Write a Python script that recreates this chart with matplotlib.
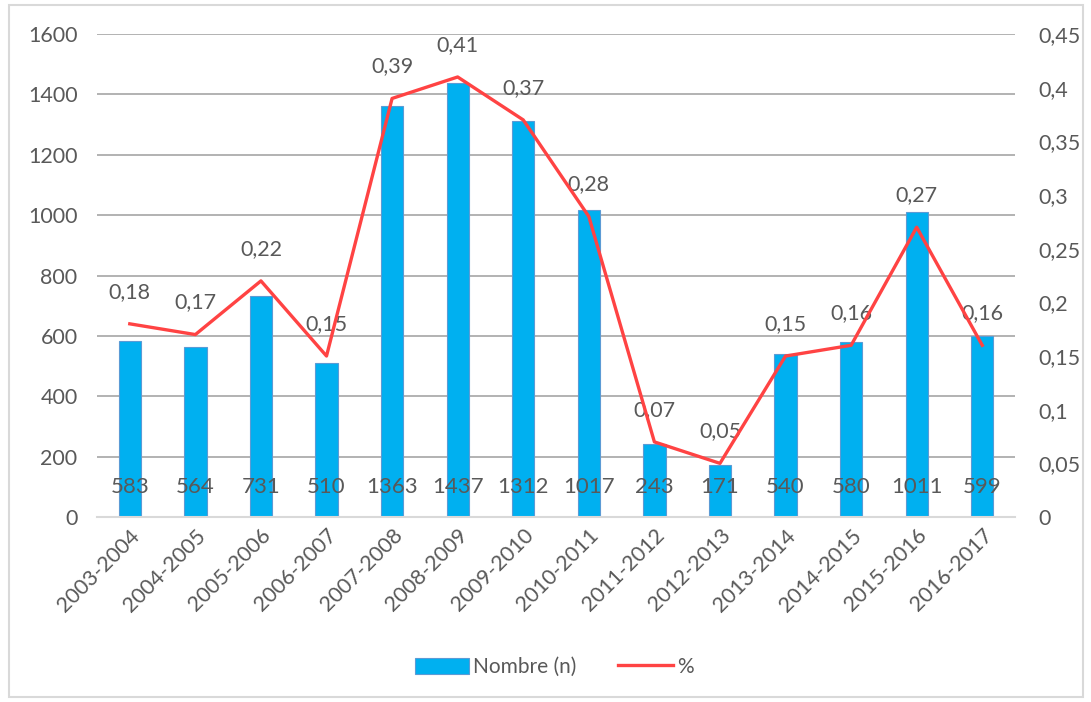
"""Nombre de cas et pourcentage par année universitaire (style Excel)."""
import numpy as np
import matplotlib
matplotlib.use("Agg")
import matplotlib.pyplot as plt
from matplotlib.patches import Rectangle

annees = ["2003-2004", "2004-2005", "2005-2006", "2006-2007", "2007-2008",
          "2008-2009", "2009-2010", "2010-2011", "2011-2012", "2012-2013",
          "2013-2014", "2014-2015", "2015-2016", "2016-2017"]
nombre = [583, 564, 731, 510, 1363, 1437, 1312, 1017, 243, 171, 540, 580,
          1011, 599]
pourcent = [0.18, 0.17, 0.22, 0.15, 0.39, 0.41, 0.37, 0.28, 0.07, 0.05,
            0.15, 0.16, 0.27, 0.16]

BLEU = "#00B0F0"
ROUGE = "#FF4343"
GRIS_TXT = "#595959"

plt.rcParams["font.family"] = ["Lato", "DejaVu Sans"]


def fmt_virgule(v):
    s = f"{v:.2f}".rstrip("0").rstrip(".")
    return s.replace(".", ",")


fig = plt.figure(figsize=(10.91, 7.02), dpi=100)
ax = fig.add_axes([0.0889, 0.2635, 0.8415, 0.688])
ax2 = ax.twinx()

x = np.arange(len(annees))
ax.bar(x, nombre, 0.34, color=BLEU, edgecolor="#5B9BD5", linewidth=0.8,
       zorder=2, label="Nombre (n)")
for xi, n in zip(x, nombre):
    ax.text(xi, 100, str(n), ha="center", va="center", fontsize=16,
            color=GRIS_TXT, zorder=3)

ax.set_ylim(0, 1600)
ax.set_yticks(np.arange(0, 1601, 200))
ax.set_xlim(-0.5, len(annees) - 0.5)
ax.set_xticks(x)
ax.set_xticklabels(annees, rotation=45, ha="right", rotation_mode="anchor")
ax.grid(axis="y", color="#A6A6A6", linewidth=1.2, zorder=0)
ax.set_axisbelow(True)
for s in ["top", "left", "right"]:
    ax.spines[s].set_visible(False)
ax.spines["bottom"].set_color("#D9D9D9")
ax.spines["bottom"].set_linewidth(1.5)
ax.tick_params(length=0, labelsize=15.5, labelcolor=GRIS_TXT, pad=14)
ax.tick_params(axis="x", pad=6)

ax2.plot(x, pourcent, color=ROUGE, linewidth=2.4, zorder=4, label="%")
for xi, p in zip(x, pourcent):
    ax2.annotate(fmt_virgule(p), (xi, p), xytext=(0, 16),
                 textcoords="offset points", ha="center", va="bottom",
                 fontsize=15.5, color=GRIS_TXT)
ax2.set_ylim(0, 0.45)
ax2.set_yticks(np.arange(0, 0.451, 0.05))
ax2.set_yticklabels([fmt_virgule(v) for v in np.arange(0, 0.451, 0.05)])
for s in ax2.spines.values():
    s.set_visible(False)
ax2.tick_params(length=0, labelsize=15.5, labelcolor=GRIS_TXT, pad=17)

h1, l1 = ax.get_legend_handles_labels()
h2, l2 = ax2.get_legend_handles_labels()
fig.legend(h1 + h2, l1 + l2, loc="center", bbox_to_anchor=(0.508, 0.05),
           ncol=2, frameon=False, fontsize=15, labelcolor=GRIS_TXT,
           handlelength=2.6, handleheight=0.8, columnspacing=2.0,
           handletextpad=0.2)

fig.patches.append(Rectangle((0.008, 0.007), 0.985, 0.986,
                             transform=fig.transFigure, fill=False,
                             edgecolor="#D9D9D9", linewidth=1.5))

fig.savefig("out.png", dpi=100)
plt.close(fig)
